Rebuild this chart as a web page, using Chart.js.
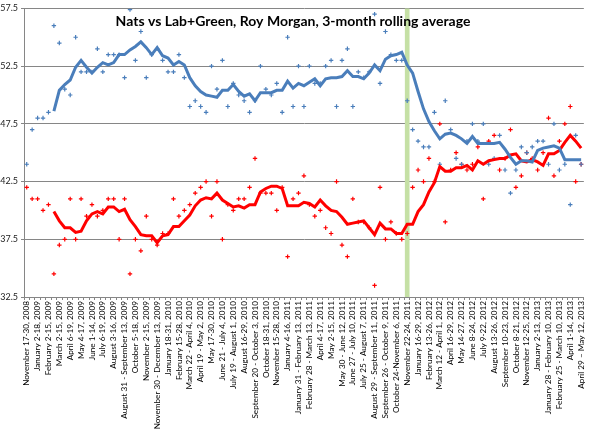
<!DOCTYPE html>
<html>
<head>
<meta charset="utf-8">
<script src="https://cdn.jsdelivr.net/npm/chart.js@4"></script>
<style>
    html, body { margin: 0; padding: 0; background: #fff; }
</style>
</head>
<body>
<canvas id="pollChart" width="592" height="429"></canvas>
<script>
const chartTitle = "Nats vs Lab+Green, Roy Morgan, 3-month rolling average";

// every other poll gets a label on the axis
const tickLabels = [
    "November 17-30, 2008", "January 2-18, 2009", "February 2-15, 2009", "March 2-15, 2009",
    "April 6-19, 2009", "May 4-17, 2009", "June 1-14, 2009", "July 6-19, 2009",
    "August 3-16, 2009", "August 31 - September 13, 2009", "October 5-18, 2009", "November 2-15, 2009",
    "November 30 - December 13, 2009", "January 18-31, 2010", "February 15-28, 2010", "March 22 - April 4, 2010",
    "April 19 - May 2, 2010", "May 17-30, 2010", "June 21 - July 4, 2010", "July 19 - August 1, 2010",
    "August 16-29, 2010", "September 20 - October 3, 2010", "October 18-31, 2010", "November 15-28, 2010",
    "January 4-16, 2011", "January 31 - February 13, 2011", "February 28 - March 13, 2011", "April 4-17, 2011",
    "May 2-15, 2011", "May 30 - June 12, 2011", "June 27 - July 10, 2011", "July 25 - August 7, 2011",
    "August 29 - September 11, 2011", "September 26 - October 9, 2011", "October 24-November 6, 2011", "November 22-24, 2011",
    "January 16-29, 2012", "February 13-26, 2012", "March 12 - April 1, 2012", "April 16-29, 2012",
    "May 14-27, 2012", "June 8-24, 2012", "July 9-22, 2012", "August 13-26, 2012",
    "September 10-23, 2012", "October 8-21, 2012", "November 12-25, 2012", "January 2-13, 2013",
    "January 28 - February 10, 2013", "February 25 - March 10, 2013", "April 1-14, 2013", "April 29 \u2013 May 12, 2013"
];

const natsPolls = [
    44.0, 47.0, 48.0, 48.0, 48.5, 56.0, 54.5, 50.5, 50.0, 55.0,
    52.0, 52.0, 52.0, 54.0, 52.0, 53.5, 53.5, 53.5, 51.5, 57.4,
    53.0, 55.5, 51.5, 53.5, 54.0, 53.0, 52.0, 52.0, 53.5, 51.5,
    49.0, 49.5, 49.0, 48.5, 52.5, 50.5, 53.0, 49.0, 51.0, 50.0,
    49.5, 48.5, 49.5, 52.5, 50.5, 50.0, 51.0, 48.5, 55.0, 49.0,
    52.5, 49.0, 52.5, 51.0, 51.0, 52.5, 53.0, 49.0, 53.0, 54.0,
    49.0, 52.0, 51.5, 52.0, 57.0, 51.0, 55.5, 53.5, 53.0, 53.0,
    49.5, 47.0, 46.0, 45.5, 45.5, 48.5, 44.0, 49.5, 47.0, 44.5,
    44.0, 46.0, 47.5, 46.0, 47.5, 44.0, 44.5, 46.5, 43.5, 41.5,
    43.5, 45.5, 45.0, 45.5, 46.0, 46.0, 44.0, 47.5, 43.5, 44.0,
    40.5, 46.5, 44.0
];

const natsAverage = [
    null, null, null, null, null, 48.6, 50.4, 50.9, 51.3, 52.4,
    53.0, 52.4, 51.9, 52.4, 52.8, 52.6, 52.8, 53.5, 53.5, 53.9,
    54.2, 54.6, 54.1, 53.5, 54.1, 53.4, 53.2, 52.6, 52.9, 52.6,
    51.5, 50.8, 50.3, 50.0, 49.9, 49.8, 50.4, 50.4, 50.9, 50.3,
    49.9, 50.1, 49.5, 50.2, 50.2, 50.2, 50.4, 50.4, 51.2, 50.6,
    51.0, 50.8, 51.1, 51.4, 50.8, 51.4, 51.5, 51.5, 51.6, 52.1,
    51.6, 51.6, 51.4, 51.9, 52.6, 52.1, 53.1, 53.4, 53.5, 53.7,
    52.6, 51.9, 50.3, 48.8, 47.7, 46.9, 46.2, 46.6, 46.7, 46.5,
    46.2, 45.8, 46.4, 45.8, 45.8, 45.8, 45.8, 45.9, 45.3, 44.6,
    44.0, 44.3, 44.3, 44.2, 45.2, 45.4, 45.5, 45.6, 45.4, 44.4,
    44.4, 44.4, 44.4
];

const labGreenPolls = [
    42.0, 41.0, 41.0, 40.0, 40.5, 34.5, 37.0, 37.5, 41.0, 37.5,
    41.0, 39.5, 40.5, 39.5, 40.0, 41.0, 41.0, 37.5, 41.0, 34.5,
    37.5, 36.5, 39.5, 37.5, 37.0, 38.0, 38.0, 41.0, 39.5, 40.0,
    40.5, 41.5, 42.0, 42.5, 39.5, 42.5, 37.5, 40.5, 40.0, 41.0,
    41.0, 42.0, 44.5, 41.5, 41.5, 41.5, 40.0, 42.0, 36.0, 41.0,
    41.5, 43.0, 40.5, 39.5, 40.0, 38.5, 38.0, 42.5, 37.0, 36.0,
    41.0, 39.0, 39.0, 38.5, 33.5, 42.0, 37.5, 39.0, 38.0, 37.5,
    38.0, 42.0, 43.5, 42.5, 44.5, 42.5, 47.5, 39.0, 43.5, 45.0,
    44.0, 43.5, 44.0, 45.5, 41.0, 46.0, 46.5, 43.5, 44.5, 47.0,
    42.0, 43.0, 45.0, 44.5, 43.5, 45.0, 48.0, 43.0, 46.0, 47.5,
    49.0, 42.5, 44.0
];

const labGreenAverage = [
    null, null, null, null, null, 39.9, 39.1, 38.5, 38.5, 38.1,
    38.2, 39.1, 39.7, 39.9, 39.7, 40.3, 40.3, 39.9, 40.1, 39.2,
    38.6, 37.9, 37.8, 37.8, 37.2, 37.8, 37.9, 38.6, 38.6, 39.1,
    39.6, 40.4, 40.9, 41.1, 41.0, 41.5, 40.9, 40.6, 40.3, 40.4,
    40.2, 40.5, 40.5, 41.6, 41.9, 42.1, 42.1, 41.9, 40.4, 40.4,
    40.4, 40.7, 40.6, 40.3, 40.9, 40.4, 40.0, 39.9, 39.4, 38.8,
    38.9, 39.0, 39.1, 38.5, 37.9, 38.9, 38.4, 38.4, 38.0, 38.0,
    38.8, 38.8, 39.9, 40.5, 41.6, 42.4, 43.8, 43.4, 43.4, 43.7,
    43.7, 43.9, 43.5, 44.3, 44.0, 44.3, 44.4, 44.5, 44.5, 44.8,
    44.9, 44.3, 44.2, 44.4, 44.2, 43.9, 44.9, 44.9, 45.2, 45.9,
    46.5, 46.0, 45.4
];

// poll where the green marker sits
const markerIndex = 70;

const pollCount = natsPolls.length;
const categories = [];
for (let i = 0; i < pollCount; i++) {
    categories.push(i % 2 === 0 ? tickLabels[i / 2] : "");
}

const markerBar = categories.map((_, i) => (i === markerIndex ? [32.5, 57.5] : null));

const BLUE = "#4a7ebb";
const RED = "#ff0000";

const titlePlugin = {
    id: "insideTitle",
    afterDraw(chart) {
        const ctx = chart.ctx;
        const area = chart.chartArea;
        ctx.save();
        ctx.font = "bold 14px Lato, 'Open Sans', sans-serif";
        ctx.fillStyle = "#000";
        ctx.textAlign = "center";
        ctx.textBaseline = "middle";
        ctx.fillText(chartTitle, 293, area.top + 13);
        ctx.restore();
    },
};

const chartCanvas = document.getElementById("pollChart");

new Chart(chartCanvas, {
    type: "line",
    data: {
        labels: categories,
        datasets: [
            {
                label: "Nats 3-month average",
                data: natsAverage,
                borderColor: BLUE,
                borderWidth: 3,
                pointRadius: 0,
                tension: 0,
                order: 1,
            },
            {
                label: "Lab+Green 3-month average",
                data: labGreenAverage,
                borderColor: RED,
                borderWidth: 3,
                pointRadius: 0,
                tension: 0,
                order: 1,
            },
            {
                label: "Nats",
                data: natsPolls,
                showLine: false,
                pointStyle: "cross",
                pointRadius: 2.2,
                borderColor: BLUE,
                borderWidth: 1.2,
                order: 3,
            },
            {
                label: "Lab+Green",
                data: labGreenPolls,
                showLine: false,
                pointStyle: "cross",
                pointRadius: 2.2,
                borderColor: RED,
                borderWidth: 1.2,
                order: 3,
            },
            {
                type: "bar",
                label: "marker",
                data: markerBar,
                backgroundColor: "#c5e0a5",
                barThickness: 4,
                order: 10,
            },
        ],
    },
    options: {
        responsive: false,
        animation: false,
        devicePixelRatio: 1,
        layout: {
            padding: { top: 4, right: 4, left: 0, bottom: 0 },
        },
        plugins: {
            legend: { display: false },
            tooltip: { enabled: false },
        },
        scales: {
            x: {
                offset: true,
                afterFit: scale => { scale.height = 132; },
                grid: {
                    drawOnChartArea: false,
                    drawTicks: true,
                    tickLength: 3,
                    color: "#868686",
                },
                border: { color: "#868686" },
                ticks: {
                    autoSkip: false,
                    minRotation: 90,
                    maxRotation: 90,
                    padding: 1,
                    color: "#000",
                    font: { size: 8.2, family: "Lato, 'Liberation Sans', sans-serif" },
                },
            },
            y: {
                min: 32.5,
                max: 57.5,
                afterFit: scale => { scale.width = 24; },
                ticks: {
                    stepSize: 5,
                    padding: 3,
                    color: "#222",
                    font: { size: 9, family: "Lato, 'Liberation Sans', sans-serif" },
                    callback: value => value.toFixed(1),
                },
                grid: {
                    color: "#868686",
                    tickLength: 3,
                },
                border: { color: "#868686" },
            },
        },
    },
    plugins: [titlePlugin],
});
</script>
</body>
</html>
